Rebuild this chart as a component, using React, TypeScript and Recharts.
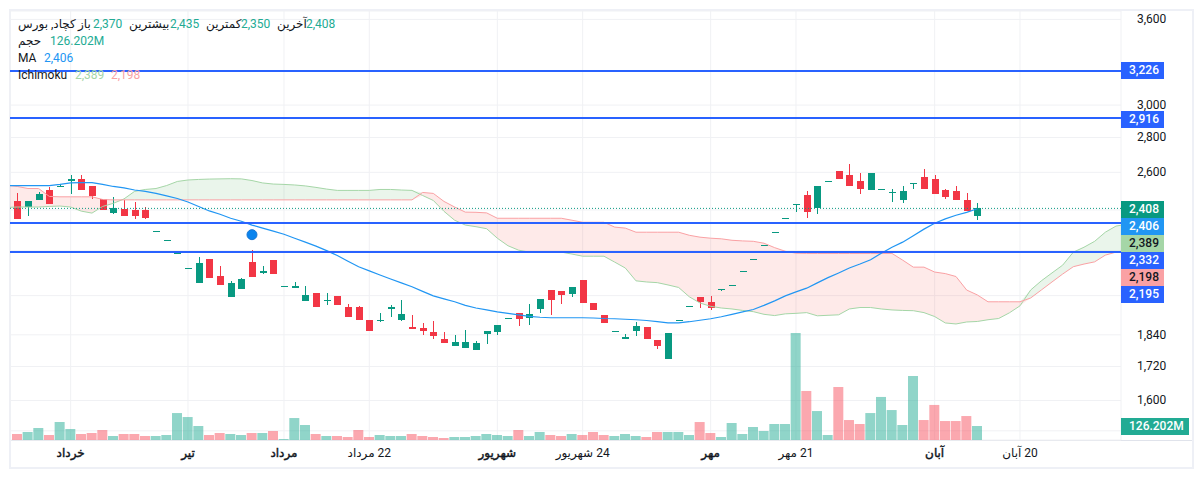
import React from "react";
import {
  ComposedChart, Bar, Line, Area, XAxis, YAxis, CartesianGrid, ReferenceLine, ReferenceDot, Cell,
} from "recharts";

const opens = [
  2444,2413,2449,2502,2523,2555,2561,2528,2459,2383,
  2403,2398,2398,2294,2250,2185,2116,2055,2162,2086,
  1995,2029,2148,2099,2157,2042,2033,1978,2012,1980,
  1999,1953,1953,1900,1898,1944,1900,1872,1868,1852,
  1825,1798,1790,1783,1844,1852,1908,1928,1908,1944,
  2024,2020,2007,2068,1969,1920,1856,1825,1856,1872,
  1821,1749,1900,1957,1995,1974,2026,2046,2108,2162,
  2227,2289,2358,2426,2475,2408,2550,2610,2583,2555,
  2502,2512,2488,2449,2536,2577,2561,2502,2497,2449,2370,
];
const closes = [
  2355,2444,2481,2429,2528,2561,2502,2470,2398,2408,
  2368,2368,2358,2294,2250,2198,2121,2143,2077,2046,
  2055,2072,2081,2108,2094,2042,2040,2003,1953,1982,
  1961,1912,1900,1856,1900,1953,1924,1864,1856,1836,
  1809,1813,1813,1809,1856,1880,1908,1904,1924,1986,
  1982,2003,2038,1969,1940,1888,1856,1833,1876,1825,
  1798,1848,1900,1957,1974,1948,2029,2046,2108,2162,
  2227,2289,2358,2429,2388,2523,2550,2561,2528,2507,
  2594,2512,2491,2497,2539,2512,2481,2465,2449,2393,2408,
];
const highs = [
  2486,2444,2491,2518,2536,2583,2588,2528,2459,2465,
  2449,2439,2413,2294,2250,2198,2121,2171,2162,2130,
  2064,2077,2203,2130,2157,2042,2059,2042,2012,2012,
  1999,1965,1957,1900,1928,1961,1982,1920,1888,1896,
  1852,1840,1860,1817,1856,1880,1908,1928,1965,1986,
  2024,2020,2038,2068,1969,1920,1856,1844,1892,1872,
  1821,1848,1900,1957,1995,1999,2029,2046,2108,2162,
  2227,2289,2358,2429,2497,2523,2550,2610,2644,2599,
  2594,2512,2507,2523,2539,2616,2588,2512,2528,2486,2435,
];
const lows = [
  2355,2368,2449,2429,2518,2481,2502,2459,2398,2378,
  2368,2353,2353,2294,2250,2185,2116,2055,2077,2046,
  1995,2029,2081,2094,2094,2042,2033,1978,1953,1961,
  1961,1912,1900,1856,1892,1912,1896,1864,1840,1825,
  1809,1798,1790,1783,1806,1840,1908,1876,1880,1928,
  1920,1965,1995,1969,1940,1888,1856,1825,1836,1825,
  1787,1749,1900,1957,1948,1940,2020,2046,2108,2162,
  2227,2289,2358,2388,2358,2378,2550,2561,2528,2481,
  2502,2512,2439,2434,2507,2512,2481,2454,2449,2393,2350,
];
const volumes = [
  54,72,108,45,162,99,54,63,90,36,
  54,54,36,36,45,243,207,126,45,63,
  54,45,63,63,81,9,198,135,54,36,
  36,27,90,27,45,36,36,54,36,27,
  18,27,27,36,54,45,36,90,36,72,
  45,36,54,45,72,45,36,54,36,27,
  72,72,72,45,162,63,27,153,54,117,
  81,144,144,965,442,261,45,478,180,144,
  243,388,270,135,577,180,316,171,171,216,126.2,
];
// first entry is the bar just left of the visible range
const maLine = [
  2528,2528,2528,2528,2528,2534,2542,2544,2544,2534,2523,
  2515,2504,2497,2486,2473,2459,2441,2418,2395,2378,
  2358,2343,2324,2309,2294,2279,2260,2241,2222,2201,
  2178,2152,2127,2108,2090,2072,2055,2038,2018,1999,
  1986,1974,1959,1948,1940,1932,1926,1920,1914,1910,
  1908,1908,1908,1908,1907,1905,1904,1902,1900,1897,
  1892,1887,1887,1892,1898,1904,1912,1922,1932,1942,
  1959,1978,1999,2016,2032,2055,2078,2099,2121,2139,
  2159,2189,2217,2241,2272,2304,2333,2355,2373,2388,2406,
];
const spanA = [
  2413,2415,2415,2415,2418,2420,2415,2394,2384,2418,2434,
  2457,2497,2507,2512,2528,2550,2558,2561,2563,2564,
  2565,2564,2555,2542,2536,2534,2531,2526,2518,2509,
  2502,2502,2502,2502,2507,2507,2504,2502,2475,2449,
  2393,2348,2324,2316,2306,2260,2224,2203,2194,2194,
  2194,2194,2185,2175,2175,2175,2148,2121,2064,2059,
  2056,2046,2035,1995,1969,1955,1948,1944,1938,1933,
  1922,1917,1924,1926,1929,1916,1918,1920,1944,1950,
  1950,1944,1940,1938,1937,1929,1913,1887,1883,1891,
  1893,1900,1905,1928,1957,2024,2064,2099,2134,2194,
  2217,2245,2289,2319,2328,
];
const spanB = [
  2530,2523,2512,2512,2470,2468,2468,2468,2468,2454,2452,
  2452,2452,2452,2452,2452,2452,2452,2452,2452,2452,
  2452,2452,2452,2452,2452,2452,2452,2452,2452,2452,
  2452,2452,2452,2452,2452,2452,2452,2452,2491,2486,
  2444,2415,2389,2388,2385,2358,2358,2358,2358,2358,
  2358,2358,2348,2338,2338,2338,2314,2309,2289,2289,
  2289,2289,2289,2274,2265,2260,2257,2250,2247,2245,
  2236,2215,2198,2189,2188,2188,2188,2188,2188,2188,
  2188,2188,2188,2157,2125,2125,2103,2096,2083,2024,
  2003,1974,1974,1974,1974,1990,2024,2059,2094,2127,
  2139,2149,2180,2194,2203,
];

const priceTicks = [3600, 3000, 2800, 2600, 2400, 2200, 2000, 1840, 1720, 1600, 1500];
const unlabelledPriceTicks = [2400, 2200, 2000, 1500];
const levelPrices = [3226, 2916, 2332, 2195];
const lastPrice = 2408;
const markerIndex = 22;
const markerPrice = 2277;

const timeTicks = [5, 16, 25, 33, 45, 53, 65, 73, 86, 94];
const timeLabels = ["خرداد", "تیر", "مرداد", "22 مرداد", "شهریور", "24 شهریور", "مهر", "21 مهر", "آبان", "20 آبان"];
const monthStartLabels = ["خرداد", "تیر", "مرداد", "شهریور", "مهر", "آبان"];

const rows = spanA.map((a, k) => {
  const i = k - 1;
  const b = spanB[k];
  const has = i >= 0 && i < opens.length;
  return {
    i,
    open: has ? opens[i] : null,
    high: has ? highs[i] : null,
    low: has ? lows[i] : null,
    close: has ? closes[i] : null,
    volume: has ? volumes[i] : null,
    ma: k < maLine.length ? maLine[k] : null,
    spanA: a,
    spanB: b,
    bull: [b, Math.max(a, b)],
    bear: [Math.min(a, b), b],
  };
});

const UP = "#089981";
const DOWN = "#f23645";
const BLUE = "#2962ff";
const INK = "#131722";
const FONT = "Roboto, 'Noto Sans', 'DejaVu Sans', sans-serif";
const X_DOMAIN: [number, number] = [-0.685, 103.47];
const PRICE_DOMAIN: [number, number] = [1471, 3665];

function Candle(props: any) {
  const { x, y, width, height, payload } = props;
  if (payload == null || payload.open == null) return null;
  const { open, close, high, low } = payload;
  const span = Math.log(high / low);
  const at = (p: number) => (span > 0 ? y + (height * Math.log(high / p)) / span : y);
  const top = at(Math.max(open, close));
  const bottom = at(Math.min(open, close));
  const color = close >= open ? UP : DOWN;
  const cx = Math.round(x + width / 2);
  return (
    <g shapeRendering="crispEdges">
      <rect x={cx - 0.5} y={y} width={1} height={Math.max(height, 1)} fill={color} />
      <rect x={cx - 3.5} y={top} width={7} height={Math.max(bottom - top, 1)} fill={color} />
    </g>
  );
}

function PriceTick(props: any) {
  const { x, y, payload } = props;
  if (unlabelledPriceTicks.includes(payload.value)) return <g />;
  return (
    <text x={x + 8} y={y + 3.8} fontSize={12} fontFamily={FONT} fill={INK}>
      {payload.value.toLocaleString("en-US")}
    </text>
  );
}

function TimeTick(props: any) {
  const { x, payload } = props;
  const label = timeLabels[timeTicks.indexOf(payload.value)];
  const isMonth = monthStartLabels.includes(label);
  return (
    <text x={x} y={457} fontSize={12} fontFamily={FONT} textAnchor="middle" direction="rtl"
      fill={INK} stroke={isMonth ? INK : "none"} strokeWidth={isMonth ? 0.45 : 0}>
      {label}
    </text>
  );
}

const badges = [
  { text: "3,226", top: 62, bg: BLUE, fg: "#fff" },
  { text: "2,916", top: 111, bg: BLUE, fg: "#fff" },
  { text: "2,408", top: 201, bg: UP, fg: "#fff" },
  { text: "2,406", top: 218, bg: "#2196f3", fg: "#fff" },
  { text: "2,389", top: 235, bg: "#a5d6a7", fg: INK },
  { text: "2,332", top: 252, bg: BLUE, fg: "#fff" },
  { text: "2,198", top: 269, bg: "#faa1a4", fg: INK },
  { text: "2,195", top: 286, bg: BLUE, fg: "#fff" },
  { text: "126.202M", top: 418, bg: "#22ab94", fg: "#fff", wide: true },
];

const legend = [
  { text: "کچاد, بورس", left: 18, top: 24, color: INK, rtl: true },
  { text: "باز", left: 78, top: 24, color: INK, rtl: true },
  { text: "2,370", left: 93, top: 24, color: "#22ab94" },
  { text: "بیشترین", left: 129, top: 24, color: INK, rtl: true },
  { text: "2,435", left: 170, top: 24, color: "#22ab94" },
  { text: "کمترین", left: 206, top: 24, color: INK, rtl: true },
  { text: "2,350", left: 241, top: 24, color: "#22ab94" },
  { text: "آخرین", left: 277, top: 24, color: INK, rtl: true },
  { text: "2,408", left: 306, top: 24, color: "#22ab94" },
  { text: "حجم", left: 18, top: 41, color: INK, rtl: true },
  { text: "126.202M", left: 50, top: 41, color: "#22ab94" },
  { text: "MA", left: 18, top: 58, color: INK },
  { text: "2,406", left: 44, top: 58, color: "#2196f3" },
  { text: "Ichimoku", left: 18, top: 75, color: INK },
  { text: "2,389", left: 75, top: 75, color: "#a5d6a7" },
  { text: "2,198", left: 111, top: 75, color: "#faa1a4" },
];

export default function App() {
  return (
    <div style={{ position: "absolute", left: 0, top: 0, width: 1203, height: 478, background: "#fff", overflow: "hidden" }}>
      <div style={{ position: "absolute", left: 9, top: 9, width: 1181, height: 456, border: "2px solid #eef0f6" }} />
      <div style={{ position: "absolute", left: 11, top: 440, width: 1181, height: 1, background: "#e0e3eb" }} />
      <div style={{ position: "absolute", left: 0, top: 0 }}>
        <ComposedChart width={1203} height={478} data={rows} margin={{ top: 11, left: 10, right: 2, bottom: 0 }}>
          <CartesianGrid stroke="#f0f1f4" strokeWidth={1} />
          <XAxis dataKey="i" type="number" domain={X_DOMAIN} allowDataOverflow ticks={timeTicks} interval={0}
            axisLine={false} tickLine={false} height={38} tick={<TimeTick />} />
          <XAxis dataKey="i" xAxisId="vol" type="number" domain={X_DOMAIN} allowDataOverflow hide />
          <YAxis orientation="right" type="number" scale="log" domain={PRICE_DOMAIN} allowDataOverflow
            ticks={priceTicks} interval={0} axisLine={false} tickLine={false} width={80} tick={<PriceTick />} />
          <YAxis yAxisId="vol" type="number" domain={[0, 3867]} hide />

          <Bar xAxisId="vol" yAxisId="vol" dataKey="volume" barSize={10} isAnimationActive={false}>
            {rows.map((r) => (
              <Cell key={r.i} fill={(r.close ?? 0) >= (r.open ?? 0) ? "rgba(34,171,148,0.5)" : "rgba(247,82,95,0.5)"} />
            ))}
          </Bar>

          <Area dataKey="bull" stroke="none" fill="rgba(67,160,71,0.11)" fillOpacity={1} dot={false} activeDot={false} isAnimationActive={false} />
          <Area dataKey="bear" stroke="none" fill="rgba(244,67,54,0.11)" fillOpacity={1} dot={false} activeDot={false} isAnimationActive={false} />
          <Line dataKey="spanA" stroke="#a5d6a7" strokeWidth={1} dot={false} activeDot={false} isAnimationActive={false} />
          <Line dataKey="spanB" stroke="#faa1a4" strokeWidth={1} dot={false} activeDot={false} isAnimationActive={false} />

          <Bar dataKey={(d: any) => (d.high == null ? null : [d.low, d.high])} barSize={7} shape={<Candle />} isAnimationActive={false} />

          <Line dataKey="ma" stroke="#2196f3" strokeWidth={1.2} dot={false} activeDot={false} isAnimationActive={false} />

          <ReferenceLine y={lastPrice} stroke={UP} strokeDasharray="1 2" strokeWidth={1} />
          {levelPrices.map((p) => (
            <ReferenceLine key={p} y={p} stroke={BLUE} strokeWidth={2} shapeRendering="crispEdges" />
          ))}
          <ReferenceDot x={markerIndex} y={markerPrice} r={5} fill="#0a84ee" stroke="#1976d2" strokeWidth={1} />
        </ComposedChart>
      </div>

      {badges.map((b) => (
        <div key={b.text + b.top} style={{
          position: "absolute", left: 1121, top: b.top, width: b.wide ? 68 : 43, height: 17,
          background: b.bg, color: b.fg, font: `500 12px/17px ${FONT}`,
          paddingLeft: 8, boxSizing: "border-box", whiteSpace: "nowrap",
        }}>{b.text}</div>
      ))}
      {legend.map((l) => (
        <span key={l.text + l.left} dir={l.rtl ? "rtl" : "ltr"} style={{
          position: "absolute", left: l.left, top: l.top - 8, color: l.color,
          font: `400 12px/16px ${FONT}`, whiteSpace: "nowrap",
        }}>{l.text}</span>
      ))}
    </div>
  );
}
